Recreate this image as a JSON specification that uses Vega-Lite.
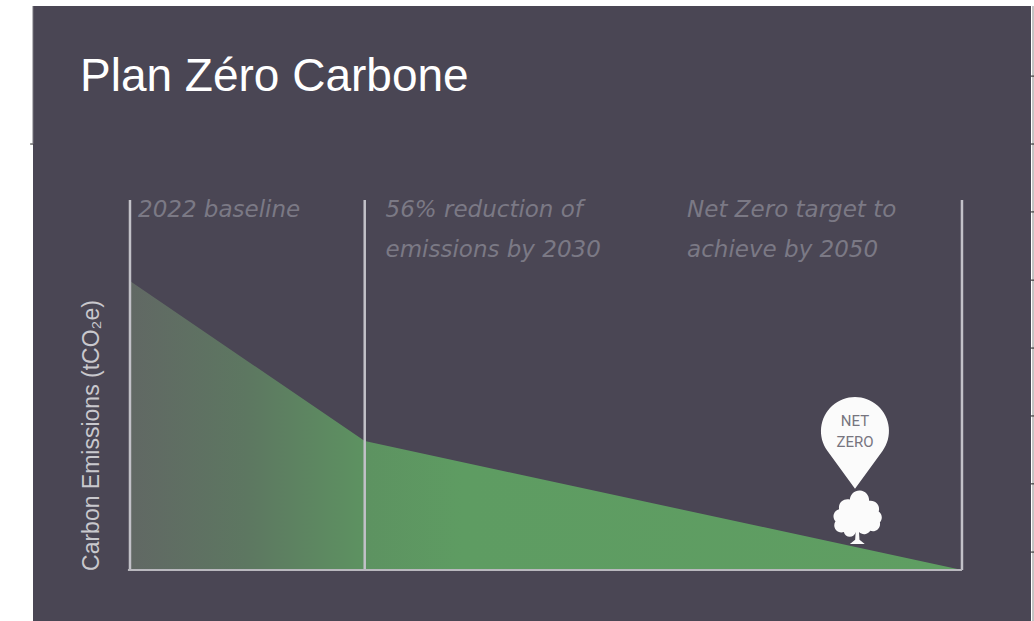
{
"$schema":"https://vega.github.io/schema/vega-lite/v6.json",
"width":998,"height":615,
"autosize":{"type":"none"},
"padding":{"left":33,"top":6,"right":3,"bottom":0},
"background":"#ffffff",
"view":{"fill":"#4a4654","stroke":null},
"title":{"text":"Plan Zéro Carbone","anchor":"start","frame":"group","orient":"top","dx":47,"offset":-132,"baseline":"alphabetic","fontSize":46,"fontWeight":"normal","font":"Liberation Sans","color":"#ffffff"},
"datasets":{
"emissions":[{"year":2022,"value":100},{"year":2029.9,"value":44.6},{"year":2050,"value":0}],
"marks":[{"year":2022,"value":128,"low":0},{"year":2029.9,"value":128,"low":0},{"year":2050,"value":128,"low":0}],
"notes":[
{"year":2022.27,"value":122,"label":"2022 baseline"},
{"year":2030.6,"value":122,"label":"56% reduction of"},
{"year":2030.6,"value":108.4,"label":"emissions by 2030"},
{"year":2040.75,"value":122,"label":"Net Zero target to"},
{"year":2040.75,"value":108.4,"label":"achieve by 2050"}],
"pin":[{"year":2046.4,"value":48.1}],
"pinText":[{"year":2046.4,"value":51.5,"label":"NET"},{"year":2046.4,"value":44.2,"label":"ZERO"}],
"tree":[{"year":2046.47,"value":17.3}],
"edgeTicks":[{"value":170.9,"year":2052.32,"year2":2052.43},{"value":147.4,"year":2052.32,"year2":2052.43},{"value":123.9,"year":2052.32,"year2":2052.43},{"value":100.3,"year":2052.32,"year2":2052.43},{"value":76.8,"year":2052.32,"year2":2052.43},{"value":53.3,"year":2052.32,"year2":2052.43},{"value":29.8,"year":2052.32,"year2":2052.43},{"value":6.2,"year":2052.32,"year2":2052.43},{"value":147.4,"year":2018.64,"year2":2018.74}]
},
"encoding":{
"x":{"field":"year","type":"quantitative","scale":{"domain":[2018.736,2052.323],"nice":false,"zero":false},"axis":null},
"y":{"field":"value","type":"quantitative","scale":{"domain":[-17.65,195.16],"nice":false,"zero":false},
"axis":{"title":"Carbon Emissions (tCO₂e)","domain":false,"ticks":false,"labels":false,"grid":false,"titleColor":"#c9c8cd","titleFont":"Liberation Sans","titleFontSize":23,"titleFontWeight":"normal","titleX":65,"titleY":429,"titleAngle":-90,"titleAlign":"center","titleBaseline":"alphabetic"}}
},
"layer":[
{"data":{"name":"emissions"},"mark":{"type":"area","color":{"gradient":"linear","x1":0,"y1":0,"x2":1,"y2":0,"stops":[{"offset":0,"color":"#616864"},{"offset":0.14,"color":"#5d7761"},{"offset":0.28,"color":"#5d9261"},{"offset":0.4,"color":"#5e9c62"},{"offset":1,"color":"#5f9e62"}]}},"encoding":{"y":{"field":"value","type":"quantitative","stack":null}}},
{"data":{"name":"marks"},"mark":{"type":"rule","color":"#c2c1c8","strokeWidth":2.5},"encoding":{"y2":{"field":"low"},"y":{"field":"value","type":"quantitative"}}},
{"data":{"values":[{"year":2021.93,"year2":2050,"value":0}]},"mark":{"type":"rule","color":"#b9b8be","strokeWidth":2},"encoding":{"x2":{"field":"year2"}}},
{"data":{"name":"notes"},"mark":{"type":"text","align":"left","baseline":"alphabetic","font":"DejaVu Sans","fontStyle":"oblique","fontSize":23,"color":"#7b7985"},"encoding":{"text":{"field":"label"}}},
{"data":{"name":"pin"},"mark":{"type":"point","filled":true,"opacity":1,"color":"#fbfbfb","size":4624,"shape":"M0,1.7 L-0.809,0.588 A1,1 0 1 1 0.809,0.588 Z"}},
{"data":{"name":"pinText"},"mark":{"type":"text","align":"center","baseline":"middle","font":"Roboto","fontSize":15,"color":"#77757f"},"encoding":{"text":{"field":"label"}}},
{"data":{"name":"tree"},"mark":{"type":"point","filled":true,"opacity":1,"color":"#fbfbfb","size":2304,"shape":"M-0.06,0.5 L-0.08,0.82 L-0.3,1.0 L0.32,1.0 L0.1,0.82 L0.08,0.5 A0.3,0.3 0 0 0 0.55,0.45 A0.3,0.3 0 0 0 0.95,0.1 A0.3,0.3 0 0 0 0.9,-0.35 A0.35,0.35 0 0 0 0.5,-0.8 A0.4,0.4 0 0 0 -0.3,-0.85 A0.35,0.35 0 0 0 -0.75,-0.45 A0.3,0.3 0 0 0 -0.9,0.05 A0.3,0.3 0 0 0 -0.55,0.5 A0.25,0.25 0 0 0 -0.06,0.5 Z"}},
{"data":{"values":[{"year":2052.39,"value":195.16,"low":-17.65}]},"mark":{"type":"rule","color":"#c4c4c4","strokeWidth":2},"encoding":{"y2":{"field":"low"}}},
{"data":{"name":"edgeTicks"},"mark":{"type":"rule","color":"#222222","strokeWidth":1},"encoding":{"x2":{"field":"year2"}}},
{"data":{"values":[{"year":2018.736,"value":195.16,"low":147.4}]},"mark":{"type":"rule","color":"#77757c","strokeWidth":1},"encoding":{"y2":{"field":"low"}}}
]
}
